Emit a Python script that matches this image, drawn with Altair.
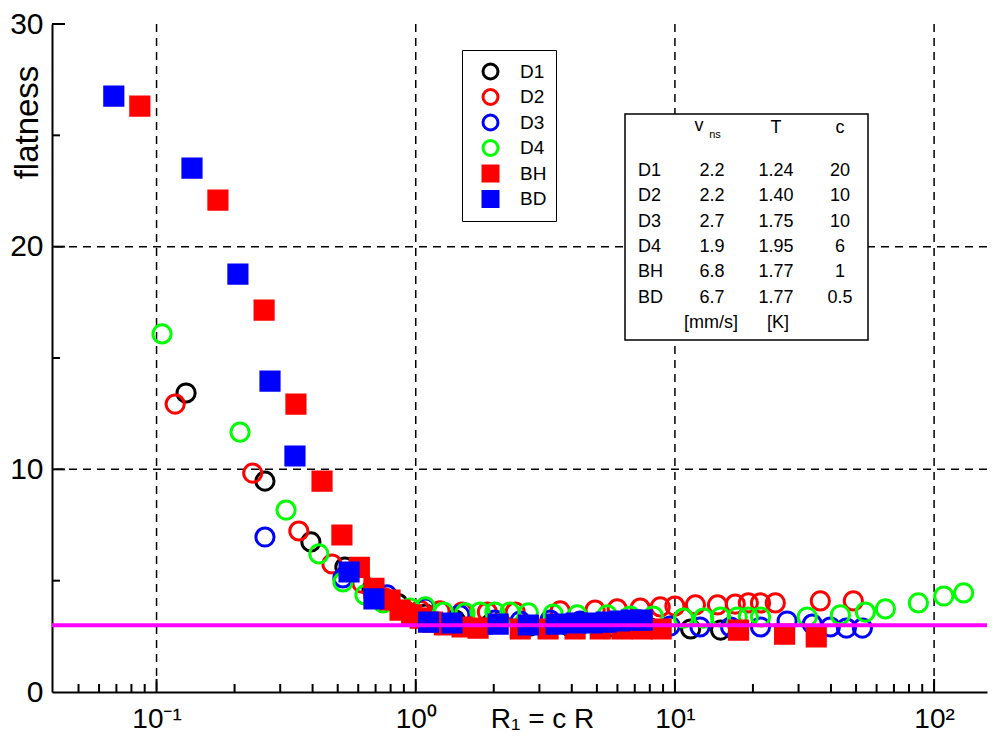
import altair as alt
import pandas as pd

FONT = "Liberation Sans"

# ---------------- data ----------------
series = ["D1", "D2", "D3", "D4", "BH", "BD"]
stroke_colors = ["#000000", "#ff0000", "#0000ff", "#00ff00", "#ff0000", "#0000ff"]
fill_colors = ["transparent", "transparent", "transparent", "transparent", "#ff0000", "#0000ff"]
shapes = ["circle", "circle", "circle", "circle", "square", "square"]
stroke_widths = [3, 3, 3, 3, 1, 1]

D1_x = [0.130, 0.262, 0.394, 0.533, 0.678, 0.855, 1.09, 1.42, 1.94, 2.76, 3.94, 5.63, 8.03, 11.5, 15.0]
D1_y = [13.43, 9.47, 6.74, 5.61, 4.63, 3.97, 3.50, 3.23, 3.05, 2.96, 2.92, 2.92, 2.87, 2.83, 2.78]

D2_x = [0.118, 0.235, 0.354, 0.475, 0.620, 0.761, 0.909, 1.04, 1.24, 1.51, 1.89, 2.42, 3.61, 4.92,
        5.99, 7.35, 8.78, 10.0, 12.0, 14.6, 17.1, 19.2, 21.4, 24.4, 36.4, 48.8]
D2_y = [12.93, 9.83, 7.23, 5.75, 4.89, 4.22, 3.67, 3.67, 3.64, 3.59, 3.59, 3.59, 3.64, 3.68,
        3.73, 3.77, 3.82, 3.86, 3.91, 3.91, 3.95, 4.00, 4.00, 4.00, 4.09, 4.09]

D3_x = [0.262, 0.524, 0.775, 1.09, 1.48, 2.02, 2.53, 3.30, 4.31, 5.63, 7.35, 9.59, 12.5, 16.4,
        21.4, 27.1, 33.9, 39.8, 45.9, 52.9]
D3_y = [6.96, 5.12, 4.36, 3.77, 3.46, 3.23, 3.19, 3.23, 3.19, 3.10, 3.05, 2.96, 2.92, 2.92,
        2.92, 3.19, 3.05, 2.92, 2.87, 2.87]

D4_x = [0.105, 0.210, 0.316, 0.423, 0.524, 0.637, 0.748, 0.951, 1.09, 1.28, 1.55, 1.77, 2.02,
        2.31, 2.72, 3.39, 4.20, 5.48, 6.72, 8.25, 10.8, 12.9, 15.0, 17.4, 19.2, 21.4, 32.4,
        43.5, 54.3, 64.9, 87.0, 109.0, 130.0]
D4_y = [16.08, 11.67, 8.17, 6.20, 4.94, 4.36, 4.00, 3.77, 3.82, 3.59, 3.55, 3.59, 3.59,
        3.59, 3.55, 3.50, 3.46, 3.46, 3.41, 3.41, 3.32, 3.32, 3.37, 3.37, 3.37, 3.37, 3.37,
        3.46, 3.59, 3.73, 4.00, 4.31, 4.45]

BH_x = [0.0862, 0.1725, 0.260, 0.345, 0.435, 0.519, 0.606, 0.690, 0.796, 0.870, 0.965, 1.04,
        1.16, 1.29, 1.51, 1.74, 2.53, 3.24, 4.12, 5.15, 6.25, 7.48, 8.85, 17.6, 26.5, 35.1]
BH_y = [26.31, 22.09, 17.15, 12.93, 9.47, 7.05, 5.60, 4.66, 4.13, 3.68, 3.46, 3.32,
        3.14, 3.01, 2.92, 2.87, 2.83, 2.83, 2.83, 2.83, 2.83, 2.83, 2.83, 2.78, 2.60, 2.47]

BD_x = [0.0684, 0.137, 0.206, 0.274, 0.342, 0.553, 0.690, 1.12, 1.38, 2.08, 2.72, 3.48, 4.16,
        4.80, 5.43, 6.10, 6.78, 7.48]
BD_y = [26.76, 23.53, 18.77, 13.96, 10.60, 5.39, 4.18, 3.14, 3.10, 3.05, 3.01, 3.05, 3.10,
        3.10, 3.14, 3.19, 3.23, 3.23]

reference_level = [3.0]

x_grid = [0.1, 1, 10, 100]
y_grid = [10, 20]
x_minor_ticks = [0.05, 0.06, 0.07, 0.08, 0.09, 0.2, 0.3, 0.4, 0.5, 0.6, 0.7, 0.8, 0.9,
                 2, 3, 4, 5, 6, 7, 8, 9, 20, 30, 40, 50, 60, 70, 80, 90]
x_major_ticks = [0.1, 1, 10, 100]
y_major_ticks = [10, 20, 30]
y_minor_ticks = [5, 15, 25]
y_tick_values = [0, 10, 20, 30]

table_names = ["D1", "D2", "D3", "D4", "BH", "BD"]
table_vns = ["2.2", "2.2", "2.7", "1.9", "6.8", "6.7"]
table_T = ["1.24", "1.40", "1.75", "1.95", "1.77", "1.77"]
table_c = ["20", "10", "10", "6", "1", "0.5"]
table_header = ["v", "ns", "T", "c"]
table_units = ["[mm/s]", "[K]"]

# ---------------- build tables ----------------
rows = []
for name, xs, ys in [("D1", D1_x, D1_y), ("D2", D2_x, D2_y), ("D3", D3_x, D3_y),
                     ("D4", D4_x, D4_y), ("BH", BH_x, BH_y), ("BD", BD_x, BD_y)]:
    for a, b in zip(xs, ys):
        rows.append({"series": name, "x": a, "y": b})
pts = pd.DataFrame(rows)

W, H = 935, 668
xscale = alt.Scale(type="log", domain=[0.0395, 160], nice=False)
yscale = alt.Scale(domain=[0, 30], nice=False, zero=False)

x_axis = alt.Axis(
    values=x_grid,
    labelExpr="datum.value < 0.5 ? '10⁻¹' : datum.value < 5 ? '10⁰' : datum.value < 50 ? '10¹' : '10²'",
    ticks=False, tickSize=0, grid=False,
    domainColor="black", domainWidth=2,
    labelFont=FONT, labelFontSize=28, labelColor="black",
    labelBaseline="alphabetic", labelPadding=35, labelOverlap=False,
    title="R₁ = c R", titleFont=FONT, titleFontSize=28, titleFontWeight="normal",
    titleColor="black", titleX=490, titleY=35, titleAlign="center", titleBaseline="alphabetic",
)
y_axis = alt.Axis(
    values=y_tick_values,
    ticks=False, tickSize=0, grid=False,
    domainColor="black", domainWidth=2,
    labelFont=FONT, labelFontSize=30, labelColor="black", labelPadding=9,
    title="flatness", titleFont=FONT, titleFontSize=33, titleFontWeight="normal",
    titleColor="black", titleAngle=270, titleX=-25, titleY=98,
    titleAlign="center", titleBaseline="middle",
)


def X(field="x"):
    return alt.X(f"{field}:Q", scale=xscale, axis=x_axis)


def Y(field="y"):
    return alt.Y(f"{field}:Q", scale=yscale, axis=y_axis)


dash = [8, 6]
xgrid = alt.Chart(pd.DataFrame({"x": x_grid})).mark_rule(
    color="black", strokeWidth=1.5, strokeDash=dash).encode(x=X())
ygrid = alt.Chart(pd.DataFrame({"y": y_grid})).mark_rule(
    color="black", strokeWidth=1.5, strokeDash=dash).encode(y=Y())

xt_minor = alt.Chart(pd.DataFrame({"x": x_minor_ticks})).mark_rule(
    color="black", strokeWidth=2).encode(x=X(), y=alt.value(H), y2=alt.value(H - 8))
xt_major = alt.Chart(pd.DataFrame({"x": x_major_ticks})).mark_rule(
    color="black", strokeWidth=2).encode(x=X(), y=alt.value(H), y2=alt.value(H - 13))
yt_major = alt.Chart(pd.DataFrame({"y": y_major_ticks})).mark_rule(
    color="black", strokeWidth=2).encode(y=Y(), x=alt.value(0), x2=alt.value(13))
yt_minor = alt.Chart(pd.DataFrame({"y": y_minor_ticks})).mark_rule(
    color="black", strokeWidth=2).encode(y=Y(), x=alt.value(0), x2=alt.value(8))

# table box
table_box = alt.Chart(pd.DataFrame({"a": [0]})).mark_rect(
    fill="white", stroke="black", strokeWidth=1.5).encode(
    x=alt.value(573), x2=alt.value(816), y=alt.value(90), y2=alt.value(316))

row_y = [147, 172, 198, 223, 248, 274]
left_rows = [{"t": n, "px": 586, "py": yy} for n, yy in zip(table_names, row_y)]
center_rows = []
for v, t, c, yy in zip(table_vns, table_T, table_c, row_y):
    center_rows.append({"t": v, "px": 660, "py": yy, "fs": 18})
    center_rows.append({"t": t, "px": 724, "py": yy, "fs": 18})
    center_rows.append({"t": c, "px": 788, "py": yy, "fs": 18})
center_rows.append({"t": table_header[0], "px": 647, "py": 102, "fs": 18})
center_rows.append({"t": table_header[1], "px": 663, "py": 111, "fs": 11})
center_rows.append({"t": table_header[2], "px": 724, "py": 104, "fs": 18})
center_rows.append({"t": table_header[3], "px": 788, "py": 104, "fs": 18})
center_rows.append({"t": table_units[0], "px": 659, "py": 299, "fs": 18})
center_rows.append({"t": table_units[1], "px": 726, "py": 299, "fs": 18})

t_left = alt.Chart(pd.DataFrame(left_rows)).mark_text(
    align="left", baseline="middle", font=FONT, fontSize=18, color="black").encode(
    x=alt.X("px:Q", scale=None, axis=None), y=alt.Y("py:Q", scale=None, axis=None), text="t:N")
t_center = alt.Chart(pd.DataFrame(center_rows)).mark_text(
    align="center", baseline="middle", font=FONT, color="black").encode(
    x=alt.X("px:Q", scale=None, axis=None), y=alt.Y("py:Q", scale=None, axis=None),
    size=alt.Size("fs:Q", scale=None), text="t:N")

legend = alt.Legend(
    title=None, orient="none", legendX=410, legendY=26, padding=9, symbolOffset=10,
    labelFont=FONT, labelFontSize=19, labelColor="black", labelOffset=20, rowPadding=0.5,
    clipHeight=25, strokeColor="black", fillColor="white", symbolSize=225, symbolStrokeWidth=3,
)

points = alt.Chart(pts).mark_point(
    size=330, opacity=1, fillOpacity=1, strokeOpacity=1).encode(
    x=X(), y=Y(),
    shape=alt.Shape("series:N", scale=alt.Scale(domain=series, range=shapes), legend=legend, title=None),
    stroke=alt.Stroke("series:N", scale=alt.Scale(domain=series, range=stroke_colors), legend=legend, title=None),
    fill=alt.Fill("series:N", scale=alt.Scale(domain=series, range=fill_colors), legend=legend, title=None),
    strokeWidth=alt.StrokeWidth("series:N", scale=alt.Scale(domain=series, range=stroke_widths), legend=legend, title=None),
    order=alt.Order("idx:Q"),
).transform_calculate(
    idx="indexof(['D1','D2','D3','D4','BH','BD'], datum.series)"
)

ref = alt.Chart(pd.DataFrame({"y": reference_level})).mark_rule(
    color="#ff00ff", strokeWidth=4).encode(y=Y())

chart = alt.layer(
    xgrid, ygrid, xt_minor, xt_major, yt_major, yt_minor, table_box, t_left, t_center, points, ref
).properties(
    width=W, height=H,
    autosize=alt.AutoSizeParams(type="none"),
    padding={"left": 44, "top": 16, "right": 8, "bottom": 42},
    background="white",
).configure_view(strokeWidth=0)

chart.save("out.html", embed_options={"renderer": "svg", "actions": False})
